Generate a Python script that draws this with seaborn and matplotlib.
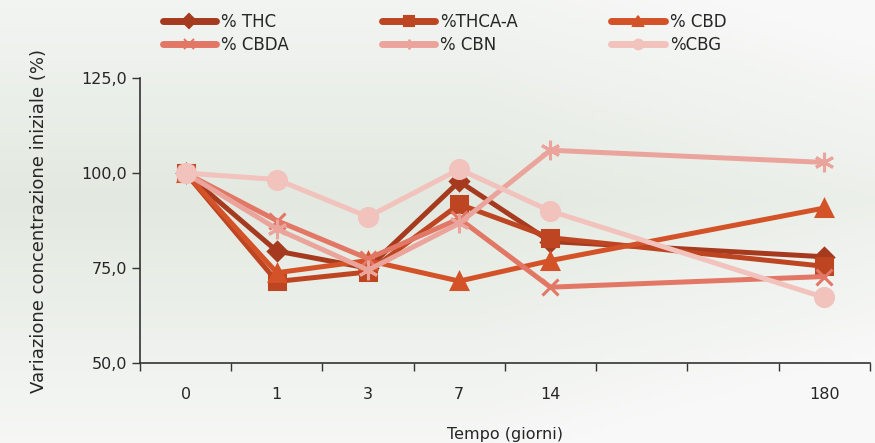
import numpy as np
import pandas as pd
import matplotlib
matplotlib.use("Agg")
import matplotlib.pyplot as plt
import seaborn as sns
from matplotlib.ticker import FuncFormatter, FixedLocator

# data
giorni = ["0", "1", "3", "7", "14", "180"]
posizioni = [0, 1, 2, 3, 4, 7]   # 180 sits three slots further right

thc = [100, 79.5, 75.0, 97.8, 82.0, 78.0]
thca_a = [100, 71.5, 74.0, 91.8, 83.0, 75.5]
cbd = [100, 73.8, 77.0, 71.6, 77.0, 90.8]
cbda = [100, 87.5, 77.5, 88.0, 70.0, 72.8]
cbn = [100, 85.3, 74.5, 86.8, 106.0, 102.8]
cbg = [100, 98.3, 88.5, 101.0, 90.0, 67.3]

serie = ["% THC", "%THCA-A", "% CBD", "% CBDA", "% CBN", "%CBG"]
colori = ["#a53a1e", "#bd4522", "#d45227", "#e27766", "#eba49b", "#f2c2bc"]
marker = ["D", "s", "^", "x", (6, 2, 0), "o"]
msize = [9, 12, 12, 12, 14, 13]

rows = []
for nome, vals in zip(serie, [thc, thca_a, cbd, cbda, cbn, cbg]):
    for p, g, v in zip(posizioni, giorni, vals):
        rows.append({"pos": p, "giorno": g, "valore": v, "serie": nome})
df = pd.DataFrame(rows)

sns.set_style("white")
plt.rcParams["font.family"] = ["DejaVu Sans"]

fig = plt.figure(figsize=(8.75, 4.43), dpi=100)

# soft background, a bit like the blurred photo behind the original
bg = fig.add_axes([0, 0, 1, 1], zorder=-10)
yy, xx = np.mgrid[0:1:100j, 0:1:200j]
shade = np.clip(1 - 1.6 * np.abs(yy - 0.45) - 0.9 * np.clip(xx - 0.55, 0, 1), 0, 1)
base = np.array([0.975, 0.975, 0.975])
green = np.array([0.89, 0.915, 0.88])
img = base + (green - base) * shade[..., None]
bg.imshow(img, aspect="auto", extent=[0, 1, 0, 1])
bg.axis("off")

ax = fig.add_axes([0.16, 0.18, 0.834, 0.644])
ax.set_facecolor("none")

sns.lineplot(data=df, x="pos", y="valore", hue="serie",
             hue_order=serie, palette=colori, marker="o",
             linewidth=3.6, ax=ax, legend=False)

for line, c, m, ms in zip(ax.lines, colori, marker, msize):
    line.set_marker(m)
    line.set_markeredgecolor(c)
    line.set_markerfacecolor(c)
    line.set_markersize(ms)
    line.set_markeredgewidth(2.2)

ax.set_xlim(-0.5, 7.5)
ax.set_ylim(50, 125)
ax.set_yticks([50, 75, 100, 125])
ax.yaxis.set_major_formatter(FuncFormatter(lambda v, _: f"{v:.1f}".replace(".", ",")))
ax.set_xticks(posizioni)
ax.set_xticklabels(giorni)
ax.xaxis.set_minor_locator(FixedLocator(np.arange(-0.5, 8, 1)))
ax.tick_params(axis="x", which="both", bottom=True)
ax.tick_params(axis="x", which="major", length=0, pad=17, labelsize=11.5)
ax.tick_params(axis="x", which="minor", length=6, width=1, color="#333333", direction="out")
ax.tick_params(axis="y", left=True, length=6, width=1, color="#333333", direction="out", labelsize=11.5)

for s in ["top", "right"]:
    ax.spines[s].set_visible(False)
for s in ["left", "bottom"]:
    ax.spines[s].set_color("#333333")
    ax.spines[s].set_linewidth(1.2)

ax.set_xlabel("Tempo (giorni)", fontsize=11.5, labelpad=18)
ax.set_ylabel("Variazione concentrazione iniziale (%)", fontsize=13, labelpad=24)

handles = {}
for nome, c, m in zip(serie, colori, marker):
    h, = ax.plot([], [], color=c, linewidth=5, marker=m, markersize=7,
                 markeredgecolor=c, markerfacecolor=c, markeredgewidth=1.5,
                 solid_capstyle="round", label=nome)
    handles[nome] = h
# matplotlib fills legend columns first, reference reads row by row
ordine = [serie[0], serie[3], serie[1], serie[4], serie[2], serie[5]]
fig.legend(handles=[handles[n] for n in ordine], loc="upper center",
           bbox_to_anchor=(0.508, 1.005), ncol=3, frameon=False, fontsize=12,
           handlelength=3.2, handletextpad=0.3, columnspacing=5.6,
           labelspacing=0.3)

fig.savefig("out.png", dpi=100)
